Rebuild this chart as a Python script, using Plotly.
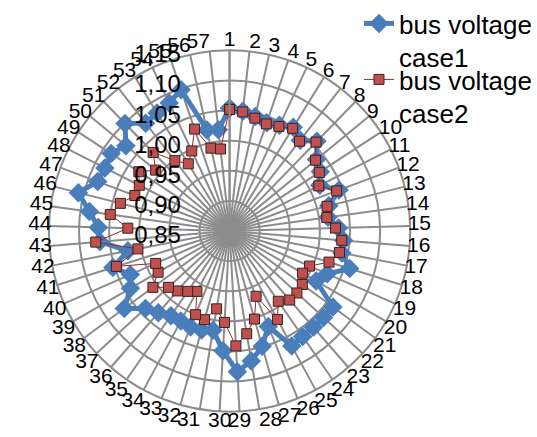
import plotly.graph_objects as go

# Bus numbers of the 57-bus system (angular categories)
buses = [str(i) for i in range(1, 58)]

# Bus voltage magnitudes (p.u.), case 1
case1 = [
    1.054, 1.050, 1.045, 1.040, 1.044, 1.052, 1.041, 1.058, 1.037, 1.030,
    1.018, 1.044, 1.020, 1.015, 1.031, 1.040, 1.040, 1.059, 1.027, 1.016,
    1.063, 1.062, 1.062, 1.063, 1.067, 1.021, 1.049, 1.069, 1.084, 1.049,
    1.017, 1.021, 1.022, 1.020, 1.021, 1.030, 1.040, 1.067, 1.040, 1.030,
    1.053, 1.022, 1.066, 1.068, 1.085, 1.109, 1.084, 1.082, 1.085, 1.073,
    1.099, 1.077, 1.080, 1.085, 1.098, 1.022, 1.019,
]

# Bus voltage magnitudes (p.u.), case 2
case2 = [
    1.052, 1.049, 1.042, 1.038, 1.042, 1.050, 1.039, 1.056, 1.035, 1.028,
    1.016, 1.040, 1.017, 1.013, 1.026, 1.037, 1.036, 1.023, 0.995, 0.990,
    1.000, 1.002, 1.002, 0.992, 1.017, 0.967, 1.002, 1.023, 1.041, 1.002,
    0.981, 1.003, 1.000, 0.964, 0.972, 0.982, 0.988, 1.008, 0.987, 0.984,
    1.047, 1.005, 1.073, 1.019, 1.050, 1.037, 1.018, 1.018, 1.030, 1.009,
    1.032, 0.998, 0.981, 0.997, 1.029, 0.991, 0.987,
]

# Radial scale ticks
radial_ticks = [0.85, 0.90, 0.95, 1.00, 1.05, 1.10, 1.15]

series_names = ["bus voltage<br>case1", "bus voltage<br>case2"]

GRID = "#8C8C8C"
FONT = "Liberation Sans, Arial, sans-serif"

fig = go.Figure()

# close each polygon by repeating the first bus
fig.add_trace(go.Scatterpolar(
    r=case1 + case1[:1],
    theta=buses + buses[:1],
    mode="lines+markers",
    name=series_names[0],
    line=dict(color="#4A7EBB", width=5),
    marker=dict(symbol="diamond", size=15, color="#4A7EBB"),
    legend="legend",
))
fig.add_trace(go.Scatterpolar(
    r=case2 + case2[:1],
    theta=buses + buses[:1],
    mode="lines+markers",
    name=series_names[1],
    line=dict(color="#8B2D2B", width=1),
    marker=dict(symbol="square", size=10, color="#C0504D",
                line=dict(color="#3A2222", width=1)),
    legend="legend2",
))
# transparent layer that only carries the bus-number labels,
# set a little tighter to the chart than the default label offset
fig.add_trace(go.Scatterpolar(
    r=case1,
    theta=buses,
    mode="markers",
    marker=dict(opacity=0),
    showlegend=False,
    hoverinfo="skip",
    subplot="polar2",
))

W, H = 537, 437
cx, cy, R = 230, 231, 181
# label ring: slightly smaller radius, centre nudged upward
lcx, lcy, LR = 230, 228, 178


def dom(x0, y0, r):
    return dict(x=[(x0 - r) / W, (x0 + r) / W],
                y=[1 - (y0 + r) / H, 1 - (y0 - r) / H])


fig.update_layout(
    width=W, height=H,
    margin=dict(l=0, r=0, t=0, b=0),
    separators=",.",
    paper_bgcolor="white",
    plot_bgcolor="white",
    font=dict(family=FONT, color="black"),
    polar=dict(
        domain=dom(cx, cy, R),
        bgcolor="white",
        angularaxis=dict(
            type="category",
            categoryarray=buses,
            direction="clockwise",
            rotation=90,
            showgrid=True,
            gridcolor=GRID,
            gridwidth=2,
            showline=True,
            linecolor=GRID,
            linewidth=2,
            ticks="",
            showticklabels=False,
        ),
        radialaxis=dict(
            range=[0.85, 1.15],
            tickvals=radial_ticks,
            tickformat=".2f",
            angle=90,
            side="counterclockwise",
            showgrid=True,
            gridcolor=GRID,
            gridwidth=2,
            showline=True,
            linecolor=GRID,
            linewidth=2,
            ticks="outside",
            ticklen=26,
            tickcolor="rgba(0,0,0,0)",
            tickfont=dict(size=24, family=FONT, color="black"),
        ),
    ),
    polar2=dict(
        domain=dom(lcx, lcy, LR),
        bgcolor="rgba(0,0,0,0)",
        angularaxis=dict(
            type="category",
            categoryarray=buses,
            direction="clockwise",
            rotation=90,
            showgrid=False,
            showline=False,
            ticks="",
            tickfont=dict(size=21, family=FONT, color="black"),
        ),
        radialaxis=dict(range=[0.85, 1.15], visible=False),
    ),
    legend=dict(
        x=360 / W, y=1 - 0 / H, xanchor="left", yanchor="top",
        font=dict(size=26, family=FONT, color="black"),
        valign="top", bgcolor="rgba(0,0,0,0)", borderwidth=0,
    ),
    legend2=dict(
        x=360 / W, y=1 - 56 / H, xanchor="left", yanchor="top",
        font=dict(size=26, family=FONT, color="black"),
        valign="top", bgcolor="rgba(0,0,0,0)", borderwidth=0,
    ),
    showlegend=True,
)

fig.write_html("out.html")
